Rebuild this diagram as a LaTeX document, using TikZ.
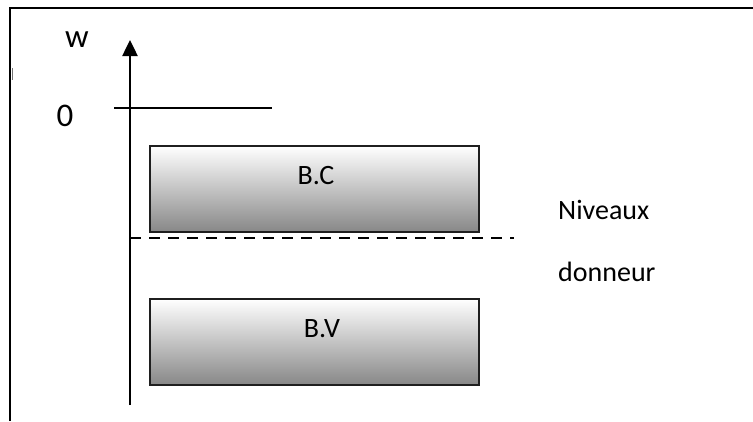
\documentclass[tikz,border=0pt]{standalone}
\usepackage{fontspec}
\setmainfont{Carlito}
\usetikzlibrary{arrows.meta}
\begin{document}
\begin{tikzpicture}[x=1pt,y=-1pt,
  band/.style={draw=black!88,line width=2pt,top color=white,bottom color=black!47,
    minimum width=329pt,minimum height=86pt,inner sep=0pt,anchor=north west},
  bigtxt/.style={font=\fontsize{33}{38}\selectfont,inner sep=0pt,anchor=base},
  txt/.style={font=\fontsize{28}{34}\selectfont,inner sep=0pt,anchor=base}]
\useasboundingbox (0,0) rectangle (753,421);
\fill[white] (0,0) rectangle (753,421);
% open frame: top and left edges only
\draw[line width=2pt] (10,421) -- (10,8) -- (753,8);
\draw[black!55,line width=1pt] (12,68) -- (12,80);
% energy axis
\coordinate (axbot) at (130,405);
\coordinate (axtop) at (130,40);
\draw[line width=2.5pt,-{Triangle[width=15pt,length=16pt]}] (axbot) -- (axtop);
\node[bigtxt] (wlab) at (77,47) {w};
% zero level
\coordinate (z0) at (114,108);
\coordinate (z1) at (272,108);
\draw[line width=2pt] (z0) -- (z1);
\node[bigtxt] (zero) at (65,126) {0};
% bands
\node[band] (bc) at (149,145) {};
\node[band] (bv) at (149,298) {};
\node[txt] (bclab) at (316,184) {B.C};
\node[txt] (bvlab) at (322,337) {B.V};
% donor level
\coordinate (d0) at (130,238);
\coordinate (d1) at (514,238);
\draw[line width=2.2pt,dash pattern=on 11pt off 8pt] (d0) -- (d1);
\node[txt,anchor=base west] (niv) at (558,219) {Niveaux};
\node[txt,anchor=base west] (don) at (558,281) {donneur};
\end{tikzpicture}
\end{document}
